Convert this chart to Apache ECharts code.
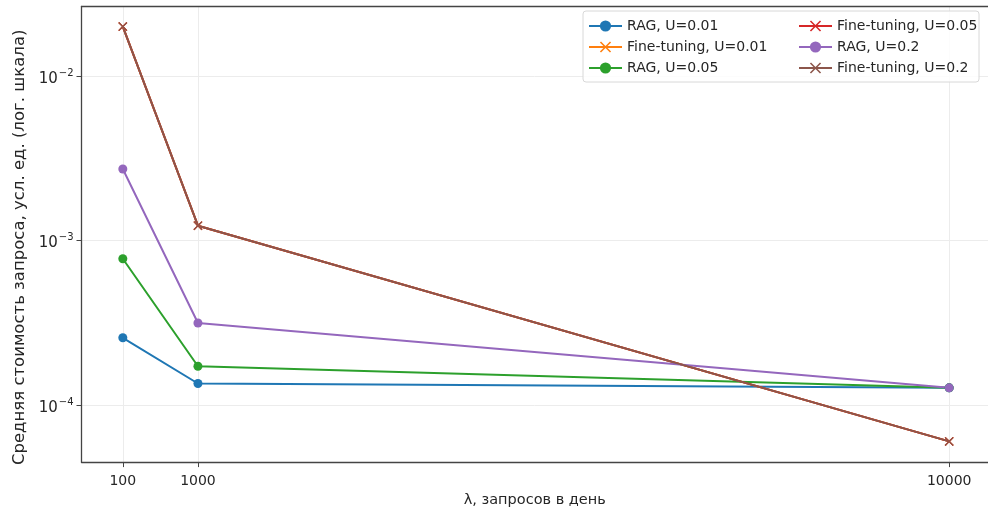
<!DOCTYPE html>
<html>
<head>
<meta charset="utf-8">
<script src="https://cdn.jsdelivr.net/npm/echarts@6/dist/echarts.min.js"></script>
<style>
html,body{margin:0;padding:0;background:#fff;}
#chart{width:988px;height:513px;}
</style>
</head>
<body>
<div id="chart"></div>
<script>
// ---- data ----
const lambdas = [100, 1000, 10000];
const ragU001 = [2.56e-4, 1.35e-4, 1.27e-4];
const ftU001  = [2.0e-2, 1.23e-3, 6.0e-5];
const ragU005 = [7.75e-4, 1.72e-4, 1.27e-4];
const ftU005  = [2.0e-2, 1.23e-3, 6.0e-5];
const ragU02  = [2.72e-3, 3.15e-4, 1.27e-4];
const ftU02   = [2.0e-2, 1.23e-3, 6.0e-5];
const seriesNames = ['RAG, U=0.01','Fine-tuning, U=0.01','RAG, U=0.05','Fine-tuning, U=0.05','RAG, U=0.2','Fine-tuning, U=0.2'];
const xTickValues = [100, 1000, 10000];
const xTickLabels = ['100', '1000', '10000'];
const yTickValues = [1e-4, 1e-3, 1e-2];
const yTickBase = '10';
const yTickExps = ['\u22124', '\u22123', '\u22122'];
const xTitle = 'λ, запросов в день';
const yTitle = 'Средняя стоимость запроса, усл. ед. (лог. шкала)';

// ---- styling ----
const colors = ['#1f77b4','#ff7f0e','#2ca02c','#d62728','#9467bd','#8c564b'];
const xSym = 'path://M1,0 L5,4 L9,0 L10,1 L6,5 L10,9 L9,10 L5,6 L1,10 L0,9 L4,5 L0,1 Z';
const FONT = 'DejaVu Sans';
const TXT = '#262626';
const allData = [ragU001, ftU001, ragU005, ftU005, ragU02, ftU02];

const series = allData.map((vals, i) => {
  const isRag = i % 2 === 0;
  return {
    name: seriesNames[i],
    type: 'line',
    data: lambdas.map((x, j) => [x, vals[j]]),
    symbol: isRag ? 'circle' : xSym,
    symbolSize: 9,
    showAllSymbol: true,
    lineStyle: { color: colors[i], width: 2 },
    itemStyle: { color: colors[i] },
    emphasis: { disabled: true },
    animation: false
  };
});

function yFmt(v) {
  for (let k = 0; k < yTickValues.length; k++) {
    if (Math.abs(Math.log10(v) - Math.log10(yTickValues[k])) < 1e-6) {
      return '{b|' + yTickBase + '}{s|' + yTickExps[k] + '}';
    }
  }
  return '';
}
function xFmt(v) {
  const k = xTickValues.indexOf(v);
  return k >= 0 ? xTickLabels[k] : '';
}

const legendCommon = {
  orient: 'vertical',
  padding: 0,
  itemWidth: 33,
  itemHeight: 14,
  itemGap: 7,
  textStyle: { fontFamily: FONT, fontSize: 14, color: TXT },
  selectedMode: false
};

const chart = echarts.init(document.getElementById('chart'), null, { renderer: 'canvas' });
chart.setOption({
  animation: false,
  color: colors,
  grid: { left: 81.5, right: 0, top: 6.5, bottom: 50.5 },
  graphic: [{
    type: 'rect',
    shape: { x: 583, y: 11, width: 396, height: 71, r: 3 },
    style: { fill: 'rgba(255,255,255,0.85)', stroke: '#d8d8d8', lineWidth: 1 },
    z: 3
  }],
  legend: [
    Object.assign({ left: 588, top: 19, data: seriesNames.slice(0, 3) }, legendCommon),
    Object.assign({ left: 798, top: 19, data: seriesNames.slice(3, 6) }, legendCommon)
  ],
  xAxis: [{
    type: 'value',
    min: -395,
    max: 10465,
    name: xTitle,
    nameLocation: 'middle',
    nameGap: 27,
    nameTextStyle: { fontFamily: FONT, fontSize: 14.5, color: TXT },
    axisLine: { show: true, onZero: false, lineStyle: { color: '#444', width: 1.3 } },
    axisTick: { show: true, length: 5, customValues: xTickValues, lineStyle: { color: '#444' } },
    axisLabel: { customValues: xTickValues, formatter: xFmt, fontFamily: FONT, fontSize: 14, color: TXT, margin: 12 },
    splitLine: { show: true, lineStyle: { color: '#ececec', width: 1 } }
  }, {
    type: 'value',
    position: 'top',
    min: -395,
    max: 10465,
    axisLine: { show: true, onZero: false, lineStyle: { color: '#444', width: 1.3 } },
    axisTick: { show: false },
    axisLabel: { show: false },
    splitLine: { show: false }
  }],
  yAxis: {
    type: 'log',
    logBase: 10,
    min: 4.49e-5,
    max: 2.65e-2,
    name: yTitle,
    nameLocation: 'middle',
    nameGap: 53,
    nameTextStyle: { fontFamily: FONT, fontSize: 16.5, color: TXT, padding: [0, 26, 0, 0] },
    axisLine: { show: true, onZero: false, lineStyle: { color: '#444', width: 1.3 } },
    axisTick: { show: true, length: 5, lineStyle: { color: '#444' } },
    axisLabel: {
      formatter: yFmt, margin: 8, showMinLabel: false, showMaxLabel: false,
      rich: {
        b: { fontFamily: FONT, fontSize: 15, color: TXT, padding: [6, 0, 0, 0] },
        s: { fontFamily: FONT, fontSize: 10, color: TXT, padding: [0, 0, 6, 1] }
      }
    },
    splitLine: { show: true, lineStyle: { color: '#ececec', width: 1 } }
  },
  series: series
});
</script>
</body>
</html>
